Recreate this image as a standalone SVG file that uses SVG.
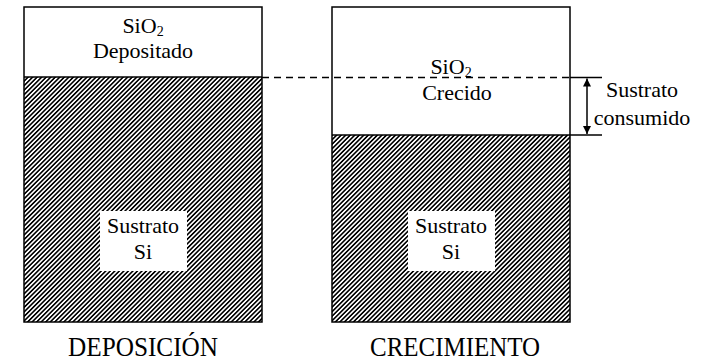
<svg xmlns="http://www.w3.org/2000/svg" width="707" height="361" viewBox="0 0 707 361">
<style>
  .t { font-family: "Liberation Serif", "Times New Roman", serif; font-size: 22px; fill: #000; }
  .big { font-family: "Liberation Serif", "Times New Roman", serif; font-size: 28px; fill: #000; }
  .sub { font-size: 14px; }
  .box { fill: none; stroke: #000; stroke-width: 1.5; }
  .ln { stroke: #000; stroke-width: 1.5; fill: none; }
</style>
<defs>
  <pattern id="hatch" patternUnits="userSpaceOnUse" width="3.2" height="3.2" patternTransform="rotate(45)">
    <rect x="0" y="0" width="3.2" height="3.2" fill="#fff"/>
    <rect x="0" y="0" width="1.6" height="3.2" fill="#000"/>
  </pattern>
  <marker id="ah" viewBox="0 0 10 10" refX="10" refY="5" markerWidth="9" markerHeight="8" markerUnits="userSpaceOnUse" orient="auto-start-reverse">
    <path d="M0,0 L10,5 L0,10 Z" fill="#000"/>
  </marker>
</defs>
<rect width="707" height="361" fill="#fff"/>

<g id="deposicion">
  <rect x="24" y="77" width="238" height="245" fill="url(#hatch)"/>
  <rect x="24" y="7" width="238" height="70" fill="#fff"/>
  <rect class="box" x="24" y="7" width="238" height="315"/>
  <line class="ln" x1="24" y1="77" x2="262" y2="77"/>
  <text class="t" x="143" y="33" text-anchor="middle">SiO<tspan class="sub" dy="3">2</tspan></text>
  <text class="t" x="143" y="58" text-anchor="middle">Depositado</text>
  <rect x="100" y="211" width="87" height="60" fill="#fff"/>
  <text class="t" x="143" y="233" text-anchor="middle">Sustrato</text>
  <text class="t" x="143" y="259" text-anchor="middle">Si</text>
  <text class="big" x="143" y="356" text-anchor="middle" textLength="150" lengthAdjust="spacingAndGlyphs">DEPOSICIÓN</text>
</g>

<g id="crecimiento">
  <rect x="332" y="135" width="238" height="187" fill="url(#hatch)"/>
  <rect x="332" y="7" width="238" height="128" fill="#fff"/>
  <rect class="box" x="332" y="7" width="238" height="315"/>
  <line class="ln" x1="332" y1="135" x2="570" y2="135"/>
  <text class="t" x="451" y="74" text-anchor="middle">SiO<tspan class="sub" dy="3">2</tspan></text>
  <text class="t" x="457" y="100" text-anchor="middle">Crecido</text>
  <rect x="408" y="211" width="87" height="60" fill="#fff"/>
  <text class="t" x="451" y="233" text-anchor="middle">Sustrato</text>
  <text class="t" x="451" y="259" text-anchor="middle">Si</text>
  <text class="big" x="455" y="356" text-anchor="middle" textLength="170" lengthAdjust="spacingAndGlyphs">CRECIMIENTO</text>
</g>

<g id="consumido">
  <text class="t" x="642" y="97" text-anchor="middle">Sustrato</text>
  <text class="t" x="642" y="125" text-anchor="middle">consumido</text>
</g>

<g id="connectors">
  <line class="ln" x1="262" y1="77.5" x2="570" y2="77.5" stroke-dasharray="7,5"/>
  <line class="ln" x1="570" y1="77.5" x2="602" y2="77.5"/>
  <line class="ln" x1="570" y1="135" x2="602" y2="135"/>
  <line class="ln" x1="587" y1="78.5" x2="587" y2="134" marker-start="url(#ah)" marker-end="url(#ah)"/>
</g>
</svg>
